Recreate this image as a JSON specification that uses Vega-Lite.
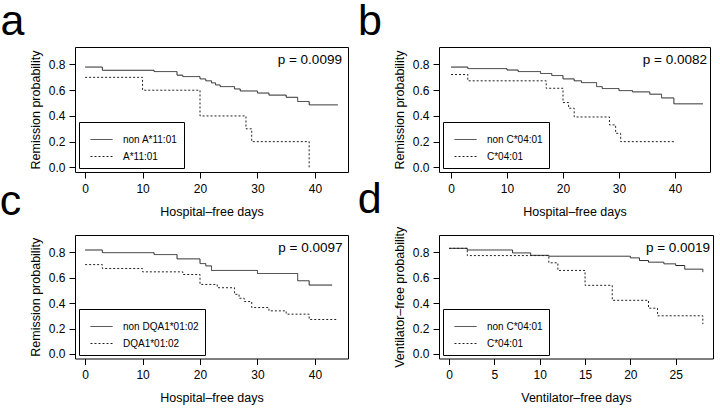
{
  "$schema": "https://vega.github.io/schema/vega-lite/v6.json",
  "padding": {"left": -1, "top": 0, "right": 0, "bottom": 0},
  "background": "white",
  "datasets": {
    "km_a": [
      {"group": "non A*11:01", "t": 0, "s": 0.78},
      {"group": "non A*11:01", "t": 3, "s": 0.755},
      {"group": "non A*11:01", "t": 12, "s": 0.745},
      {"group": "non A*11:01", "t": 16, "s": 0.717},
      {"group": "non A*11:01", "t": 17, "s": 0.706},
      {"group": "non A*11:01", "t": 20, "s": 0.688},
      {"group": "non A*11:01", "t": 21, "s": 0.673},
      {"group": "non A*11:01", "t": 22, "s": 0.657},
      {"group": "non A*11:01", "t": 22.7, "s": 0.641},
      {"group": "non A*11:01", "t": 23.5, "s": 0.628},
      {"group": "non A*11:01", "t": 26, "s": 0.61},
      {"group": "non A*11:01", "t": 27, "s": 0.594},
      {"group": "non A*11:01", "t": 30, "s": 0.578},
      {"group": "non A*11:01", "t": 32, "s": 0.562},
      {"group": "non A*11:01", "t": 35, "s": 0.545},
      {"group": "non A*11:01", "t": 37, "s": 0.512},
      {"group": "non A*11:01", "t": 39, "s": 0.486},
      {"group": "non A*11:01", "t": 44, "s": 0.486},
      {"group": "A*11:01", "t": 0, "s": 0.7},
      {"group": "A*11:01", "t": 10, "s": 0.6},
      {"group": "A*11:01", "t": 20, "s": 0.4},
      {"group": "A*11:01", "t": 28, "s": 0.3},
      {"group": "A*11:01", "t": 29, "s": 0.2},
      {"group": "A*11:01", "t": 39, "s": 0.0}
    ],
    "km_b": [
      {"group": "non C*04:01", "t": 0, "s": 0.78},
      {"group": "non C*04:01", "t": 3, "s": 0.768},
      {"group": "non C*04:01", "t": 10, "s": 0.757},
      {"group": "non C*04:01", "t": 12, "s": 0.745},
      {"group": "non C*04:01", "t": 16, "s": 0.73},
      {"group": "non C*04:01", "t": 18, "s": 0.714},
      {"group": "non C*04:01", "t": 20, "s": 0.688},
      {"group": "non C*04:01", "t": 22, "s": 0.673},
      {"group": "non C*04:01", "t": 23.3, "s": 0.659},
      {"group": "non C*04:01", "t": 26, "s": 0.628},
      {"group": "non C*04:01", "t": 27, "s": 0.613},
      {"group": "non C*04:01", "t": 30, "s": 0.597},
      {"group": "non C*04:01", "t": 32.4, "s": 0.587},
      {"group": "non C*04:01", "t": 35.5, "s": 0.569},
      {"group": "non C*04:01", "t": 37.6, "s": 0.54},
      {"group": "non C*04:01", "t": 39.8, "s": 0.494},
      {"group": "non C*04:01", "t": 45, "s": 0.494},
      {"group": "C*04:01", "t": 0, "s": 0.722},
      {"group": "C*04:01", "t": 3, "s": 0.673},
      {"group": "C*04:01", "t": 17, "s": 0.615},
      {"group": "C*04:01", "t": 20, "s": 0.504},
      {"group": "C*04:01", "t": 21, "s": 0.46},
      {"group": "C*04:01", "t": 22, "s": 0.392},
      {"group": "C*04:01", "t": 28.3, "s": 0.33},
      {"group": "C*04:01", "t": 29.4, "s": 0.265},
      {"group": "C*04:01", "t": 30.3, "s": 0.2},
      {"group": "C*04:01", "t": 40, "s": 0.2}
    ],
    "km_c": [
      {"group": "non DQA1*01:02", "t": 0, "s": 0.818},
      {"group": "non DQA1*01:02", "t": 3, "s": 0.797},
      {"group": "non DQA1*01:02", "t": 12, "s": 0.782},
      {"group": "non DQA1*01:02", "t": 16, "s": 0.748},
      {"group": "non DQA1*01:02", "t": 20, "s": 0.711},
      {"group": "non DQA1*01:02", "t": 21, "s": 0.693},
      {"group": "non DQA1*01:02", "t": 22, "s": 0.657},
      {"group": "non DQA1*01:02", "t": 30, "s": 0.633},
      {"group": "non DQA1*01:02", "t": 37, "s": 0.576},
      {"group": "non DQA1*01:02", "t": 39, "s": 0.542},
      {"group": "non DQA1*01:02", "t": 43, "s": 0.542},
      {"group": "DQA1*01:02", "t": 0, "s": 0.703},
      {"group": "DQA1*01:02", "t": 3, "s": 0.672},
      {"group": "DQA1*01:02", "t": 10, "s": 0.646},
      {"group": "DQA1*01:02", "t": 17, "s": 0.625},
      {"group": "DQA1*01:02", "t": 20, "s": 0.547},
      {"group": "DQA1*01:02", "t": 23, "s": 0.521},
      {"group": "DQA1*01:02", "t": 26, "s": 0.469},
      {"group": "DQA1*01:02", "t": 26.8, "s": 0.438},
      {"group": "DQA1*01:02", "t": 27.7, "s": 0.412},
      {"group": "DQA1*01:02", "t": 29, "s": 0.365},
      {"group": "DQA1*01:02", "t": 32, "s": 0.339},
      {"group": "DQA1*01:02", "t": 35, "s": 0.313},
      {"group": "DQA1*01:02", "t": 39, "s": 0.271},
      {"group": "DQA1*01:02", "t": 44, "s": 0.271}
    ],
    "km_d": [
      {"group": "non C*04:01", "t": 0, "s": 0.831},
      {"group": "non C*04:01", "t": 2, "s": 0.818},
      {"group": "non C*04:01", "t": 7, "s": 0.795},
      {"group": "non C*04:01", "t": 9, "s": 0.776},
      {"group": "non C*04:01", "t": 11, "s": 0.769},
      {"group": "non C*04:01", "t": 20, "s": 0.756},
      {"group": "non C*04:01", "t": 21, "s": 0.735},
      {"group": "non C*04:01", "t": 22, "s": 0.722},
      {"group": "non C*04:01", "t": 23.7, "s": 0.709},
      {"group": "non C*04:01", "t": 25, "s": 0.696},
      {"group": "non C*04:01", "t": 26, "s": 0.667},
      {"group": "non C*04:01", "t": 28, "s": 0.644},
      {"group": "C*04:01", "t": 0, "s": 0.831},
      {"group": "C*04:01", "t": 2, "s": 0.774},
      {"group": "C*04:01", "t": 11, "s": 0.717},
      {"group": "C*04:01", "t": 12, "s": 0.657},
      {"group": "C*04:01", "t": 15, "s": 0.54},
      {"group": "C*04:01", "t": 18, "s": 0.422},
      {"group": "C*04:01", "t": 22, "s": 0.36},
      {"group": "C*04:01", "t": 23, "s": 0.3},
      {"group": "C*04:01", "t": 28, "s": 0.235}
    ],
    "p_a": [{"label": "p = 0.0099", "t": 44.7, "s": 0.8}],
    "p_b": [{"label": "p = 0.0082", "t": 45.7, "s": 0.8}],
    "p_c": [{"label": "p = 0.0097", "t": 44.8, "s": 0.8}],
    "p_d": [{"label": "p = 0.0019", "t": 28.8, "s": 0.8}]
  },
  "resolve": {"scale": {"strokeDash": "independent"}, "legend": {"strokeDash": "independent"}},
  "spacing": 8,
  "hconcat": [
    {
      "bounds": "flush",
      "spacing": 63,
      "resolve": {"scale": {"strokeDash": "independent"}, "legend": {"strokeDash": "independent"}},
      "vconcat": [
        {
          "width": 273, "height": 125,
          "title": {"text": "a", "anchor": "start", "frame": "group", "fontSize": 43, "fontWeight": "normal", "baseline": "bottom", "offset": -39.5, "dx": -74.4, "color": "black"},
          "layer": [
            {
              "data": {"name": "km_a"},
              "mark": {"type": "line", "interpolate": "step-after", "strokeWidth": 1, "color": "#222"},
              "encoding": {
                "x": {"field": "t", "type": "quantitative", "scale": {"domain": [-1.76, 45.76], "nice": false, "zero": false}, "axis": {"values": [0, 10, 20, 30, 40], "tickCount": 10, "labelOverlap": false, "title": "Hospital–free days"}},
                "y": {"field": "s", "type": "quantitative", "scale": {"domain": [-0.036, 0.936], "nice": false, "zero": false}, "axis": {"values": [0, 0.2, 0.4, 0.6, 0.8], "tickCount": 10, "format": ".1f", "labelOverlap": false, "title": "Remission probability"}},
                "strokeDash": {"field": "group", "type": "nominal", "scale": {"domain": ["non A*11:01", "A*11:01"], "range": [[1, 0], [2, 2]]}, "legend": {"title": null}}
              }
            },
            {
              "data": {"name": "p_a"},
              "mark": {"type": "text", "align": "right", "baseline": "alphabetic", "fontSize": 13.5, "color": "black"},
              "encoding": {"x": {"field": "t", "type": "quantitative"}, "y": {"field": "s", "type": "quantitative"}, "text": {"field": "label"}}
            }
          ]
        },
        {
          "width": 273, "height": 123.5,
          "title": {"text": "c", "anchor": "start", "frame": "group", "fontSize": 43, "fontWeight": "normal", "baseline": "bottom", "offset": -31.5, "dx": -75.2, "color": "black"},
          "layer": [
            {
              "data": {"name": "km_c"},
              "mark": {"type": "line", "interpolate": "step-after", "strokeWidth": 1, "color": "#222"},
              "encoding": {
                "x": {"field": "t", "type": "quantitative", "scale": {"domain": [-1.76, 45.76], "nice": false, "zero": false}, "axis": {"values": [0, 10, 20, 30, 40], "tickCount": 10, "labelOverlap": false, "title": "Hospital–free days"}},
                "y": {"field": "s", "type": "quantitative", "scale": {"domain": [-0.036, 0.936], "nice": false, "zero": false}, "axis": {"values": [0, 0.2, 0.4, 0.6, 0.8], "tickCount": 10, "format": ".1f", "labelOverlap": false, "title": "Remission probability"}},
                "strokeDash": {"field": "group", "type": "nominal", "scale": {"domain": ["non DQA1*01:02", "DQA1*01:02"], "range": [[1, 0], [2, 2]]}, "legend": {"title": null}}
              }
            },
            {
              "data": {"name": "p_c"},
              "mark": {"type": "text", "align": "right", "baseline": "alphabetic", "fontSize": 13.5, "color": "black"},
              "encoding": {"x": {"field": "t", "type": "quantitative"}, "y": {"field": "s", "type": "quantitative"}, "text": {"field": "label"}}
            }
          ]
        }
      ]
    },
    {
      "bounds": "flush",
      "spacing": 63,
      "resolve": {"scale": {"strokeDash": "independent"}, "legend": {"strokeDash": "independent"}},
      "vconcat": [
        {
          "width": 271, "height": 125,
          "title": {"text": "b", "anchor": "start", "frame": "group", "fontSize": 43, "fontWeight": "normal", "baseline": "bottom", "offset": -39.5, "dx": -80.9, "color": "black"},
          "layer": [
            {
              "data": {"name": "km_b"},
              "mark": {"type": "line", "interpolate": "step-after", "strokeWidth": 1, "color": "#222"},
              "encoding": {
                "x": {"field": "t", "type": "quantitative", "scale": {"domain": [-2.14, 46.25], "nice": false, "zero": false}, "axis": {"values": [0, 10, 20, 30, 40], "tickCount": 10, "labelOverlap": false, "title": "Hospital–free days"}},
                "y": {"field": "s", "type": "quantitative", "scale": {"domain": [-0.036, 0.936], "nice": false, "zero": false}, "axis": {"values": [0, 0.2, 0.4, 0.6, 0.8], "tickCount": 10, "format": ".1f", "labelOverlap": false, "title": "Remission probability"}},
                "strokeDash": {"field": "group", "type": "nominal", "scale": {"domain": ["non C*04:01", "C*04:01"], "range": [[1, 0], [2, 2]]}, "legend": {"title": null}}
              }
            },
            {
              "data": {"name": "p_b"},
              "mark": {"type": "text", "align": "right", "baseline": "alphabetic", "fontSize": 13.5, "color": "black"},
              "encoding": {"x": {"field": "t", "type": "quantitative"}, "y": {"field": "s", "type": "quantitative"}, "text": {"field": "label"}}
            }
          ]
        },
        {
          "width": 274, "height": 123.5,
          "title": {"text": "d", "anchor": "start", "frame": "group", "fontSize": 43, "fontWeight": "normal", "baseline": "bottom", "offset": -38.5, "dx": -81.2, "color": "black"},
          "layer": [
            {
              "data": {"name": "km_d"},
              "mark": {"type": "line", "interpolate": "step-after", "strokeWidth": 1, "color": "#222"},
              "encoding": {
                "x": {"field": "t", "type": "quantitative", "scale": {"domain": [-1.12, 29.12], "nice": false, "zero": false}, "axis": {"values": [0, 5, 10, 15, 20, 25], "tickCount": 10, "labelOverlap": false, "title": "Ventilator–free days"}},
                "y": {"field": "s", "type": "quantitative", "scale": {"domain": [-0.036, 0.936], "nice": false, "zero": false}, "axis": {"values": [0, 0.2, 0.4, 0.6, 0.8], "tickCount": 10, "format": ".1f", "labelOverlap": false, "title": "Ventilator–free probability"}},
                "strokeDash": {"field": "group", "type": "nominal", "scale": {"domain": ["non C*04:01", "C*04:01"], "range": [[1, 0], [2, 2]]}, "legend": {"title": null}}
              }
            },
            {
              "data": {"name": "p_d"},
              "mark": {"type": "text", "align": "right", "baseline": "alphabetic", "fontSize": 13.5, "color": "black"},
              "encoding": {"x": {"field": "t", "type": "quantitative"}, "y": {"field": "s", "type": "quantitative"}, "text": {"field": "label"}}
            }
          ]
        }
      ]
    }
  ],
  "config": {
    "font": "Liberation Sans",
    "view": {"stroke": "black", "strokeWidth": 1},
    "axis": {"domain": false, "grid": false, "ticks": true, "tickColor": "black", "tickSize": 6, "labelFontSize": 12, "labelColor": "black", "labelOverlap": false, "titleFontSize": 12.5, "titleFontWeight": "normal", "titleColor": "black", "labelPadding": 3},
    "axisY": {"labelPadding": 4, "titlePadding": 6},
    "axisX": {"labelPadding": 5, "titlePadding": 11},
    "legend": {"orient": "bottom-left", "offset": 4, "strokeColor": "black", "fillColor": "white", "padding": 6, "symbolType": "stroke", "symbolSize": 484, "symbolStrokeWidth": 1, "symbolStrokeColor": "#222", "symbolOffset": 5, "labelFontSize": 10, "labelColor": "black", "labelOffset": 10, "rowPadding": -2}
  }
}
